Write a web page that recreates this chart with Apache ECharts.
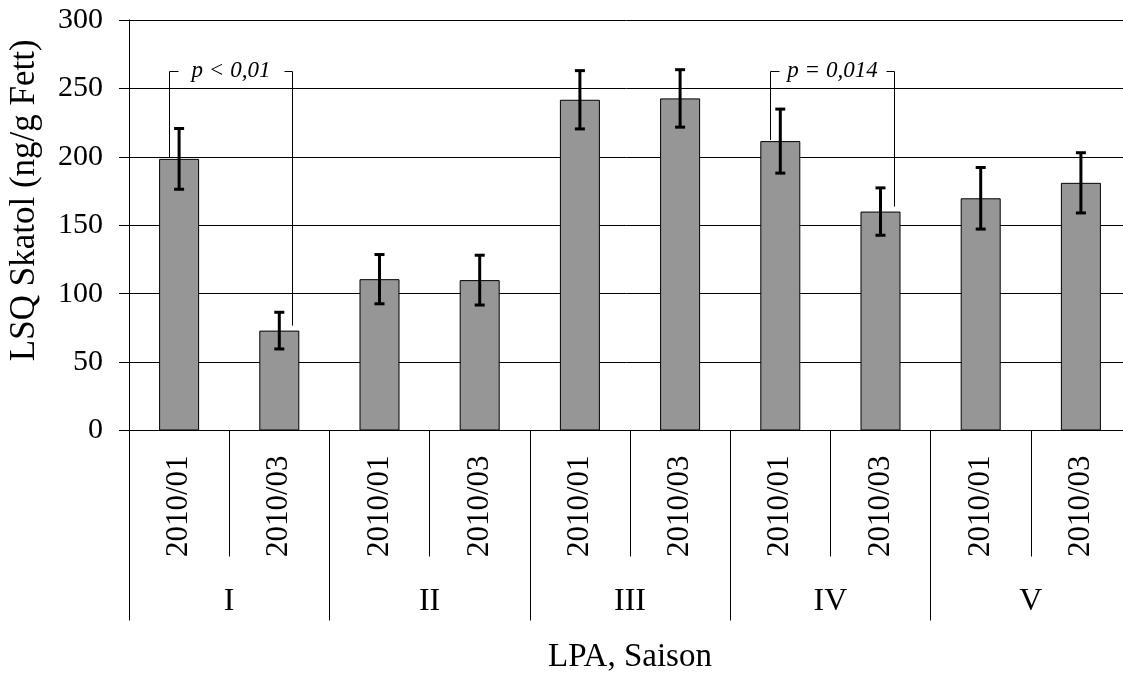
<!DOCTYPE html>
<html>
<head>
<meta charset="utf-8">
<script src="https://cdn.jsdelivr.net/npm/echarts@6/dist/echarts.min.js"></script>
<style>
  html, body { margin: 0; padding: 0; background: #ffffff; }
  #chart { width: 1123px; height: 673px; }
</style>
</head>
<body>
<div id="chart"></div>
<script>
// ---- data ----
const categories = ['2010/01', '2010/03', '2010/01', '2010/03', '2010/01', '2010/03', '2010/01', '2010/03', '2010/01', '2010/03'];
const groups = ['I', 'II', 'III', 'IV', 'V'];
const means = [198.5, 73, 110.6, 109.9, 241.7, 242.7, 211.5, 160, 169.7, 181];
const errors = [22.2, 13.4, 18, 18.2, 21.3, 21, 23.4, 17.3, 22.5, 22];
const yTicks = { min: 0, max: 300, interval: 50 };
const yTitle = 'LSQ Skatol (ng/g Fett)';
const xTitle = 'LPA, Saison';
// significance brackets: [left index, right index, left bar value, right bar value, bracket level]
const bracketPairs = [[0, 1, 198.5, 73, 263], [6, 7, 211.5, 160, 263]];
const bracketLabels = ['p < 0,01', 'p = 0,014'];

const FONT = 'Liberation Serif';
const chart = echarts.init(document.getElementById('chart'), null, { renderer: 'canvas' });

const errData = categories.map((c, i) => [i, means[i] + errors[i], means[i] - errors[i]]);

const option = {
  backgroundColor: '#ffffff',
  animation: false,
  textStyle: { fontFamily: FONT, color: '#000' },
  grid: { left: 129, top: 20, width: 1002, height: 410.5, containLabel: false, outerBoundsMode: 'none' },
  xAxis: [
    {
      type: 'category',
      data: categories,
      position: 'bottom',
      axisLine: { show: true, lineStyle: { color: '#000', width: 1 } },
      axisTick: { show: true, length: 126, interval: 0, lineStyle: { color: '#000', width: 1 } },
      axisLabel: { interval: 0, rotate: 90, margin: 25, fontSize: 31, fontFamily: FONT, color: '#000' },
      name: xTitle,
      nameLocation: 'middle',
      nameGap: 210,
      nameTextStyle: { fontSize: 33, fontFamily: FONT, color: '#000' }
    },
    {
      type: 'category',
      data: groups,
      position: 'bottom',
      axisLine: { show: false },
      axisTick: { show: true, length: 190, interval: 0, lineStyle: { color: '#000', width: 1 } },
      axisLabel: { interval: 0, margin: 155, fontSize: 32, fontFamily: FONT, color: '#000' }
    }
  ],
  yAxis: {
    type: 'value',
    min: yTicks.min,
    max: yTicks.max,
    interval: yTicks.interval,
    axisLine: { show: true, lineStyle: { color: '#000', width: 1 } },
    axisTick: { show: true, length: 10, lineStyle: { color: '#000', width: 1 } },
    axisLabel: { margin: 26, fontSize: 30, fontFamily: FONT, color: '#000' },
    splitLine: { show: true, lineStyle: { color: '#000', width: 1 } },
    name: yTitle,
    nameLocation: 'middle',
    nameGap: 87,
    nameRotate: 90,
    nameTextStyle: { fontSize: 35, fontFamily: FONT, color: '#000', padding: [0, 0, 0, 50] }
  },
  series: [
    {
      type: 'bar',
      data: means,
      xAxisIndex: 0,
      barWidth: 40,
      itemStyle: { color: '#969696', borderColor: '#000', borderWidth: 1 }
    },
    {
      type: 'custom',
      xAxisIndex: 0,
      data: errData,
      z: 5,
      renderItem: function (params, api) {
        const x = api.value(0);
        const hi = api.coord([x, api.value(1)]);
        const lo = api.coord([x, api.value(2)]);
        const w = 5;
        const st = { stroke: '#000', lineWidth: 3 };
        return {
          type: 'group',
          children: [
            { type: 'line', shape: { x1: hi[0], y1: hi[1], x2: lo[0], y2: lo[1] }, style: st },
            { type: 'line', shape: { x1: hi[0] - w, y1: hi[1], x2: hi[0] + w, y2: hi[1] }, style: st },
            { type: 'line', shape: { x1: lo[0] - w, y1: lo[1], x2: lo[0] + w, y2: lo[1] }, style: st }
          ]
        };
      }
    },
    {
      type: 'custom',
      xAxisIndex: 0,
      data: bracketPairs,
      z: 6,
      clip: false,
      renderItem: function (params, api) {
        const pL = api.coord([api.value(0), api.value(2)]);
        const pR = api.coord([api.value(1), api.value(3)]);
        const top = Math.round(api.coord([api.value(0), api.value(4)])[1]) + 0.5;
        const xL = Math.round(pL[0] - 10) + 0.5;
        const xR = Math.round(pR[0] + 13) + 0.5;
        const st = { stroke: '#000', lineWidth: 1 };
        return {
          type: 'group',
          children: [
            { type: 'line', shape: { x1: xL, y1: top, x2: xL, y2: pL[1] - 1 }, style: st },
            { type: 'line', shape: { x1: xR, y1: top, x2: xR, y2: pR[1] - 5 }, style: st },
            { type: 'line', shape: { x1: xL, y1: top, x2: xL + 9, y2: top }, style: st },
            { type: 'line', shape: { x1: xR - 8, y1: top, x2: xR, y2: top }, style: st },
            {
              type: 'text',
              style: {
                x: (xL + xR) / 2, y: top - 1,
                text: bracketLabels[params.dataIndex],
                fontFamily: FONT, fontStyle: 'italic', fontSize: 23,
                fill: '#000', align: 'center', verticalAlign: 'middle'
              }
            }
          ]
        };
      }
    }
  ]
};
chart.setOption(option);
</script>
</body>
</html>
